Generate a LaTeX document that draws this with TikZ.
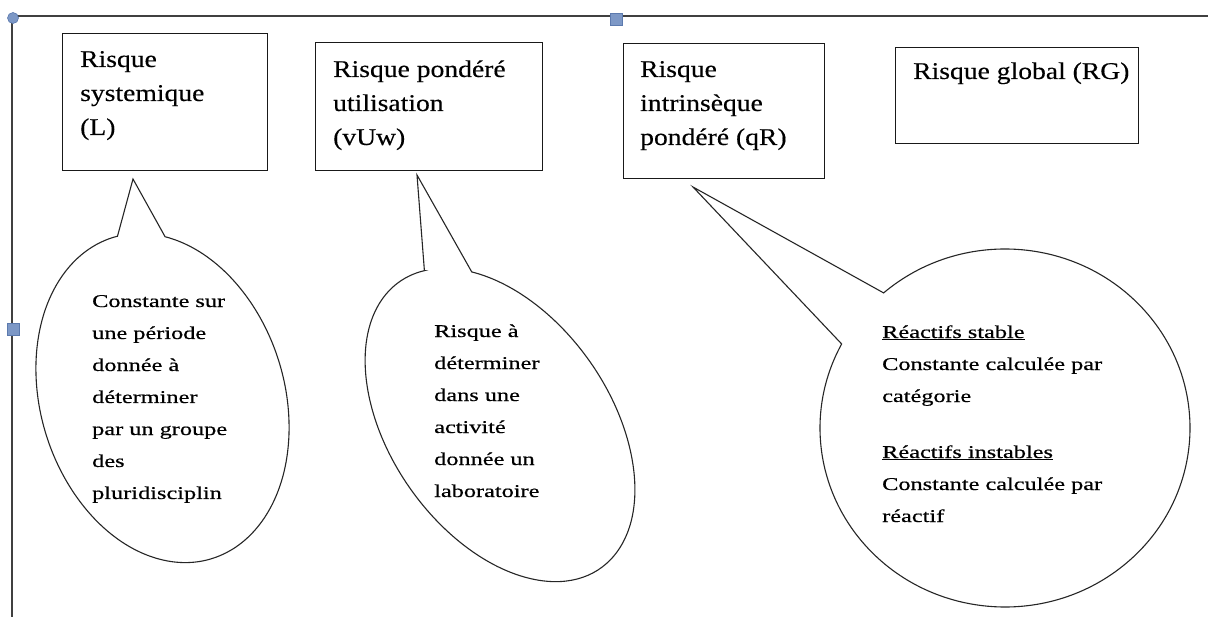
\documentclass[tikz,border=0pt]{standalone}
\usepackage{fontspec}
\setmainfont{Liberation Serif}
\newfontfamily\boxfont[FakeStretch=1.15,FakeBold=0.3]{Liberation Serif}
\newfontfamily\callfont[FakeStretch=1.35,FakeBold=0.5]{Liberation Serif}
\definecolor{handlefill}{HTML}{7D98C6}
\definecolor{handleline}{HTML}{5C7AAE}
\begin{document}
\begin{tikzpicture}[x=1pt,y=-1pt,
  frameline/.style={draw=black!75, line width=1.6pt},
  handlesq/.style={draw=handleline, fill=handlefill, line width=0.6pt, minimum size=12pt, inner sep=0pt},
  box/.style={draw=black!90, line width=1.4pt, anchor=north west, inner sep=0pt},
  boxtext/.style={anchor=base west, align=left, inner sep=0pt, font=\boxfont\fontsize{24}{34}\selectfont},
  calltext/.style={anchor=base west, align=left, inner sep=0pt, font=\callfont\fontsize{18}{32}\selectfont},
  bubble/.style={draw=black!85, line width=1.1pt, fill=white, line join=miter}]
\useasboundingbox (0,0) rectangle (1208,617);

% frame lines with handles
\coordinate (fTL) at (12,16);
\coordinate (fTR) at (1208,16);
\coordinate (fBL) at (12,617);
\draw[frameline] (fBL) -- (fTL) -- (fTR);
\fill[handlefill, draw=handleline, line width=0.6pt] (fTL) ++(1,2) circle[radius=5.5pt];
\node[handlesq] (hTop) at (616,19) {};
\node[handlesq] (hLeft) at (13,329) {};

% boxes
\node[box, minimum width=205pt, minimum height=137pt] (box1) at (62,33) {};
\node[box, minimum width=227pt, minimum height=128pt] (box2) at (315,42) {};
\node[box, minimum width=201pt, minimum height=135pt] (box3) at (623,43) {};
\node[box, minimum width=243pt, minimum height=96pt] (box4) at (895,47) {};

% (base anchor of a multi-line node = baseline of its last line)
\node[boxtext] (txt1) at (80,135) {Risque\\systemique\\(L)};
\node[boxtext] (txt2) at (333,145) {Risque pondéré\\utilisation\\(vUw)};
\node[boxtext] (txt3) at (640,145) {Risque\\intrinsèque\\pondéré (qR)};
\node[boxtext] (txt4) at (913,79) {Risque global (RG)};

% callout tips
\coordinate (tip1) at (133,179);
\coordinate (tip2) at (417,175);
\coordinate (tip3) at (693,187);

% callout 1
\begin{scope}[shift={(162.5,398)}, rotate=17]
  \coordinate (c1a) at (88:122pt and 168pt);
  \coordinate (c1b) at (66:122pt and 168pt);
  \draw[bubble] (c1a) -- (tip1) -- (c1b) arc[start angle=66, end angle=-272, x radius=122pt, y radius=168pt] -- cycle;
\end{scope}

% callout 2
\begin{scope}[shift={(500,425)}, rotate=35]
  \coordinate (c2a) at (76:110pt and 175pt);
  \coordinate (c2b) at (54:110pt and 175pt);
  \draw[bubble] (c2a) -- (tip2) -- (c2b) arc[start angle=54, end angle=-284, x radius=110pt, y radius=175pt] -- cycle;
\end{scope}

% callout 3
\begin{scope}[shift={(1005,428)}]
  \coordinate (c3a) at (152:185pt and 179pt);
  \coordinate (c3b) at (131:185pt and 179pt);
  \draw[bubble] (c3a) -- (tip3) -- (c3b) arc[start angle=131, end angle=-208, x radius=185pt, y radius=179pt] -- cycle;
\end{scope}

% callout texts
\node[calltext] (ct1) at (92,499) {Constante sur\\une période\\donnée à\\déterminer\\par un groupe\\des\\pluridisciplin};
\node[calltext] (ct2) at (434,497) {Risque à\\déterminer\\dans une\\activité\\donnée un\\laboratoire};
\node[calltext] (ct3) at (882,522) {\underline{Réactifs stable}\\Constante calculée par\\catégorie\\[24pt]\underline{Réactifs instables}\\Constante calculée par\\réactif};
\end{tikzpicture}
\end{document}
